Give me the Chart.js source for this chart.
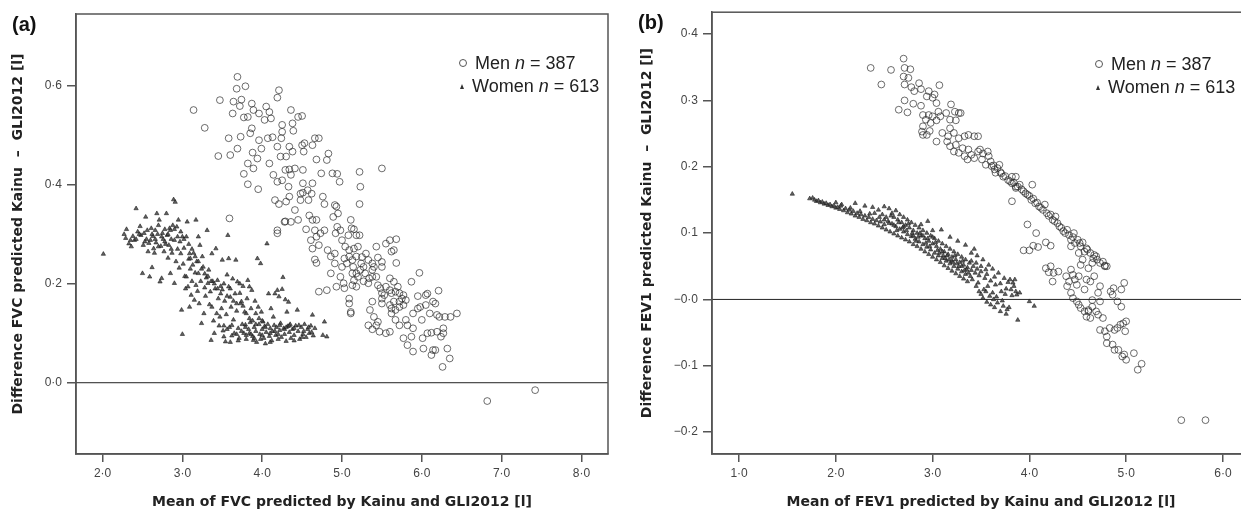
<!DOCTYPE html>
<html>
<head>
<meta charset="utf-8">
<script src="https://cdn.jsdelivr.net/npm/chart.js@4.4.1/dist/chart.umd.min.js"></script>
<style>
  body { margin: 0; width: 1241px; height: 513px; overflow: hidden; background: #fff; position: relative; }
  canvas { position: absolute; top: 0; }
  #chartA { left: 0; }
  #chartB { left: 620px; }
  .panel { position: absolute; font: bold 20px "Liberation Sans", Arial, sans-serif; color: #111; line-height: 23px; }
  .legend { position: absolute; font: 18px "Liberation Sans", Arial, sans-serif; color: #222; line-height: 23px; white-space: nowrap; }
  .legend .row { display: block; height: 23px; }
  .legend .circ { display: inline-block; vertical-align: middle; width: 6px; height: 6px; border: 1px solid #555; border-radius: 50%; margin-right: 8px; position: relative; top: -1px; }
  .legend .tri { display: inline-block; vertical-align: middle; width: 0; height: 0; border-left: 2.5px solid transparent; border-right: 2.5px solid transparent; border-bottom: 5px solid #333; margin: 0 8px 0 1px; position: relative; top: -1px; }
</style>
</head>
<body>
<canvas id="chartA" width="620" height="513"></canvas>
<canvas id="chartB" width="640" height="513"></canvas>
<div class="panel" style="left:12px; top:13px">(a)</div>
<div class="panel" style="left:638px; top:11px">(b)</div>
<div class="legend" style="left:459px; top:52px">
  <div class="row"><span class="circ"></span><span>Men <i>n</i> = 387</span></div>
  <div class="row"><span class="tri"></span><span>Women <i>n</i> = 613</span></div>
</div>
<div class="legend" style="left:1095px; top:53px">
  <div class="row"><span class="circ"></span><span>Men <i>n</i> = 387</span></div>
  <div class="row"><span class="tri"></span><span>Women <i>n</i> = 613</span></div>
</div>
<script>
// ######### data - panel (a) FVC
// ###########################################

const fvcXTicks = [2, 3, 4, 5, 6, 7, 8];
const fvcXLabels = ['2·0', '3·0', '4·0', '5·0', '6·0', '7·0', '8·0'];
const fvcYTicks = [0, 0.2, 0.4, 0.6];
const fvcYLabels = ['0·0', '0·2', '0·4', '0·6'];

const menFvc = [
  [3.69,0.618],[3.68,0.594],[3.79,0.599],[4.21,0.591],[4.19,0.576],[3.14,0.551],[3.28,0.515],[3.47,0.571],[3.64,0.568],[3.74,0.572],
  [3.63,0.544],[3.72,0.559],[3.77,0.536],[3.82,0.537],[3.87,0.564],[3.89,0.551],[3.96,0.544],[4.05,0.558],[4.09,0.547],[4.11,0.534],
  [4.03,0.531],[4.36,0.551],[4.45,0.537],[4.50,0.539],[4.38,0.524],[4.39,0.509],[4.25,0.521],[4.25,0.507],[3.58,0.494],[3.73,0.497],
  [3.45,0.458],[3.60,0.460],[3.69,0.473],[3.85,0.504],[3.87,0.514],[3.96,0.490],[3.99,0.473],[3.88,0.465],[3.94,0.453],[4.07,0.494],
  [4.13,0.496],[4.19,0.477],[4.24,0.494],[4.34,0.477],[4.23,0.457],[4.30,0.457],[4.38,0.467],[4.50,0.480],[4.53,0.484],[4.63,0.480],
  [4.66,0.494],[4.71,0.494],[4.52,0.467],[4.68,0.451],[4.81,0.450],[4.83,0.463],[3.82,0.443],[3.89,0.433],[3.77,0.422],[3.82,0.401],
  [3.95,0.391],[4.09,0.443],[4.14,0.420],[4.19,0.406],[4.25,0.409],[4.16,0.369],[4.21,0.361],[4.29,0.430],[4.34,0.431],[4.36,0.420],
  [4.41,0.433],[4.51,0.430],[4.51,0.403],[4.51,0.384],[4.48,0.382],[4.33,0.396],[4.30,0.366],[4.34,0.376],[4.41,0.349],[4.48,0.369],
  [4.57,0.389],[4.63,0.403],[4.62,0.382],[4.58,0.369],[4.74,0.423],[4.88,0.423],[4.94,0.422],[4.97,0.406],[4.76,0.376],[4.78,0.361],
  [4.91,0.359],[4.93,0.356],[4.95,0.342],[4.89,0.335],[4.29,0.326],[4.28,0.325],[4.45,0.329],[4.36,0.325],[4.55,0.310],[4.19,0.308],
  [4.19,0.302],[3.59,0.332],[4.59,0.338],[4.63,0.329],[4.68,0.329],[4.66,0.308],[4.61,0.288],[4.68,0.295],[4.73,0.302],[4.78,0.308],
  [4.71,0.278],[4.63,0.271],[4.66,0.249],[4.68,0.242],[4.71,0.184],[4.81,0.187],[4.86,0.221],[4.91,0.241],[4.91,0.261],[4.92,0.302],
  [4.94,0.315],[4.98,0.308],[5.00,0.288],[5.04,0.275],[5.08,0.298],[5.09,0.268],[5.09,0.255],[5.06,0.241],[5.00,0.234],[4.98,0.214],
  [5.02,0.201],[4.93,0.194],[5.03,0.191],[5.11,0.329],[5.12,0.312],[5.15,0.310],[5.18,0.298],[5.20,0.275],[5.22,0.298],[5.22,0.361],
  [5.23,0.396],[5.22,0.426],[5.50,0.433],[5.15,0.271],[5.13,0.248],[5.14,0.234],[5.18,0.221],[5.23,0.228],[5.27,0.234],[5.25,0.254],
  [5.30,0.261],[5.33,0.248],[5.29,0.221],[5.15,0.207],[5.18,0.194],[5.13,0.197],[5.09,0.170],[5.09,0.160],[5.11,0.143],[5.11,0.140],
  [5.27,0.205],[5.34,0.211],[5.38,0.228],[5.40,0.234],[5.43,0.214],[5.45,0.197],[5.48,0.191],[5.50,0.181],[5.45,0.253],[5.50,0.244],
  [5.50,0.234],[5.38,0.214],[5.50,0.170],[5.50,0.160],[5.53,0.177],[5.35,0.147],[5.38,0.164],[5.40,0.133],[5.43,0.116],[5.45,0.123],
  [5.33,0.116],[5.38,0.108],[5.47,0.103],[5.55,0.100],[5.60,0.103],[5.55,0.281],[5.60,0.288],[5.68,0.290],[5.62,0.265],[5.65,0.268],
  [5.68,0.242],[5.60,0.211],[5.65,0.204],[5.55,0.194],[5.60,0.187],[5.62,0.181],[5.67,0.184],[5.70,0.194],[5.72,0.181],[5.75,0.170],
  [5.77,0.177],[5.80,0.167],[5.72,0.164],[5.65,0.164],[5.60,0.157],[5.62,0.150],[5.67,0.147],[5.72,0.153],[5.77,0.157],[5.62,0.140],
  [5.67,0.127],[5.72,0.116],[5.80,0.127],[5.82,0.116],[5.89,0.140],[5.87,0.204],[5.97,0.222],[5.95,0.175],[6.05,0.177],[5.95,0.150],
  [5.98,0.153],[6.00,0.127],[5.89,0.110],[5.87,0.093],[5.77,0.090],[5.82,0.076],[5.89,0.063],[6.01,0.090],[6.07,0.100],[6.12,0.101],
  [6.19,0.103],[6.24,0.093],[6.02,0.069],[6.14,0.066],[6.12,0.056],[6.17,0.066],[6.10,0.140],[6.17,0.160],[6.19,0.137],[6.22,0.133],
  [6.29,0.133],[6.36,0.133],[6.44,0.140],[6.21,0.186],[6.05,0.157],[6.07,0.180],[6.14,0.164],[6.27,0.110],[6.32,0.069],[6.35,0.049],
  [6.26,0.032],[6.27,0.100],[6.82,-0.037],[7.42,-0.015],[4.82,0.268],[4.86,0.255],[5.03,0.251],[5.13,0.221],[5.20,0.214],[5.33,0.201],
  [5.43,0.275],[5.38,0.241],[5.18,0.255],[5.24,0.241]
];

const womenFvc = [
  [2.01,0.260],[2.27,0.300],[2.29,0.292],[2.33,0.281],[2.35,0.288],[2.38,0.296],[2.40,0.288],[2.42,0.352],[2.44,0.305],[2.47,0.316],
  [2.48,0.298],[2.50,0.221],[2.51,0.278],[2.52,0.302],[2.54,0.335],[2.55,0.290],[2.56,0.308],[2.58,0.282],[2.59,0.214],[2.60,0.288],
  [2.61,0.312],[2.62,0.233],[2.63,0.296],[2.64,0.271],[2.65,0.262],[2.66,0.308],[2.67,0.283],[2.68,0.342],[2.69,0.300],[2.70,0.318],
  [2.71,0.329],[2.72,0.204],[2.73,0.276],[2.74,0.211],[2.75,0.302],[2.76,0.290],[2.77,0.265],[2.78,0.310],[2.79,0.280],[2.80,0.342],
  [2.81,0.298],[2.82,0.252],[2.83,0.278],[2.84,0.312],[2.85,0.308],[2.85,0.221],[2.86,0.290],[2.87,0.262],[2.88,0.318],[2.89,0.370],
  [2.90,0.288],[2.90,0.201],[2.91,0.365],[2.92,0.245],[2.93,0.315],[2.94,0.270],[2.95,0.329],[2.96,0.232],[2.97,0.285],[2.98,0.261],
  [2.99,0.147],[3.00,0.295],[3.00,0.098],[3.01,0.240],[3.02,0.272],[3.03,0.215],[3.04,0.190],[3.05,0.295],[3.05,0.214],[3.06,0.325],
  [3.07,0.194],[3.08,0.250],[3.09,0.261],[3.09,0.153],[3.10,0.251],[3.10,0.230],[3.11,0.177],[3.12,0.205],[3.13,0.238],[3.14,0.262],
  [3.15,0.167],[3.16,0.222],[3.17,0.329],[3.17,0.197],[3.18,0.245],[3.19,0.185],[3.20,0.221],[3.20,0.295],[3.21,0.160],[3.22,0.278],
  [3.23,0.205],[3.24,0.120],[3.25,0.255],[3.26,0.234],[3.27,0.140],[3.28,0.192],[3.29,0.175],[3.30,0.212],[3.31,0.308],[3.32,0.201],
  [3.33,0.228],[3.34,0.158],[3.35,0.184],[3.36,0.086],[3.37,0.261],[3.37,0.153],[3.38,0.205],[3.39,0.125],[3.40,0.100],[3.41,0.190],
  [3.42,0.271],[3.43,0.140],[3.44,0.207],[3.45,0.170],[3.46,0.115],[3.47,0.133],[3.48,0.195],[3.49,0.150],[3.50,0.248],[3.50,0.188],
  [3.51,0.105],[3.52,0.093],[3.53,0.165],[3.54,0.083],[3.55,0.138],[3.56,0.218],[3.57,0.298],[3.58,0.194],[3.58,0.251],[3.59,0.112],
  [3.60,0.173],[3.61,0.153],[3.62,0.095],[3.63,0.210],[3.64,0.127],[3.65,0.100],[3.66,0.180],[3.67,0.248],[3.68,0.145],[3.69,0.204],
  [3.70,0.110],[3.71,0.090],[3.72,0.181],[3.73,0.160],[3.74,0.164],[3.75,0.118],[3.76,0.195],[3.77,0.100],[3.78,0.143],[3.79,0.117],
  [3.80,0.088],[3.81,0.170],[3.82,0.207],[3.83,0.108],[3.84,0.194],[3.84,0.100],[3.85,0.122],[3.86,0.150],[3.87,0.187],[3.88,0.094],
  [3.89,0.086],[3.90,0.112],[3.91,0.165],[3.92,0.104],[3.93,0.082],[3.94,0.251],[3.95,0.153],[3.96,0.118],[3.97,0.098],[3.98,0.241],
  [3.99,0.143],[4.00,0.108],[4.01,0.123],[4.02,0.090],[4.03,0.114],[4.04,0.079],[4.05,0.102],[4.06,0.281],[4.07,0.118],[4.08,0.180],
  [4.09,0.094],[4.10,0.110],[4.11,0.150],[4.12,0.085],[4.13,0.104],[4.14,0.133],[4.15,0.116],[4.16,0.180],[4.17,0.096],[4.18,0.112],
  [4.19,0.187],[4.20,0.088],[4.21,0.174],[4.22,0.106],[4.23,0.120],[4.24,0.092],[4.25,0.189],[4.26,0.213],[4.27,0.110],[4.28,0.098],
  [4.29,0.168],[4.30,0.084],[4.31,0.143],[4.32,0.114],[4.33,0.163],[4.34,0.102],[4.35,0.118],[4.36,0.090],[4.38,0.108],[4.40,0.096],
  [4.42,0.115],[4.44,0.147],[4.45,0.104],[4.47,0.088],[4.49,0.112],[4.51,0.098],[4.53,0.118],[4.55,0.092],[4.57,0.108],[4.59,0.100],
  [4.61,0.115],[4.63,0.137],[4.64,0.095],[4.66,0.110],[4.76,0.096],[4.78,0.123],[4.81,0.093],[3.56,0.108],[3.62,0.116],[3.68,0.098],
  [3.74,0.104],[3.79,0.112],[3.86,0.098],[3.92,0.118],[3.98,0.088],[4.04,0.112],[4.10,0.100],[4.16,0.104],[4.22,0.116],[4.28,0.108],
  [4.34,0.115],[4.40,0.110],[4.46,0.116],[4.52,0.104],[4.58,0.112],[4.62,0.102],[3.52,0.115],[3.60,0.082],[3.70,0.085],[3.80,0.096],
  [3.90,0.090],[4.00,0.096],[4.10,0.082],[4.20,0.098],[4.30,0.112],[4.40,0.085],[4.50,0.092],[2.30,0.310],[2.36,0.275],[2.42,0.290],
  [2.46,0.300],[2.53,0.285],[2.57,0.265],[2.62,0.300],[2.66,0.290],[2.70,0.275],[2.74,0.295],[2.78,0.285],[2.82,0.300],[2.86,0.270],
  [2.90,0.310],[2.94,0.295],[2.98,0.305],[3.02,0.290],[3.08,0.280],[3.12,0.270],[3.16,0.255],[3.20,0.245],[3.24,0.230],[3.28,0.220],
  [3.32,0.215],[3.36,0.205],[3.40,0.200],[3.44,0.190],[3.48,0.180],[3.52,0.200],[3.56,0.175],[3.60,0.190],[3.64,0.165],[3.68,0.160],
  [3.72,0.200],[3.76,0.155],[3.80,0.140],[3.84,0.130],[3.88,0.125],[3.92,0.140],[3.96,0.130],[4.00,0.125]
];

// ######### data - panel (b) FEV1
// ###########################################

const fevXTicks = [1, 2, 3, 4, 5, 6];
const fevXLabels = ['1·0', '2·0', '3·0', '4·0', '5·0', '6·0'];
const fevYTicks = [-0.2, -0.1, 0, 0.1, 0.2, 0.3, 0.4];
const fevYLabels = ['−0·2', '−0·1', '−0·0', '0·1', '0·2', '0·3', '0·4'];

const menFev = [
  [2.36,0.349],[2.47,0.324],[2.57,0.346],[2.70,0.363],[2.70,0.336],[2.71,0.324],[2.71,0.349],[2.77,0.347],[2.75,0.334],[2.78,0.320],
  [2.81,0.314],[2.86,0.326],[2.88,0.317],[2.71,0.300],[2.65,0.286],[2.74,0.282],[2.80,0.295],[2.88,0.292],[2.94,0.306],[2.96,0.314],
  [3.00,0.304],[3.02,0.309],[3.07,0.323],[3.04,0.296],[2.90,0.278],[2.93,0.271],[2.90,0.261],[2.89,0.253],[2.90,0.248],[2.96,0.278],
  [2.98,0.266],[3.00,0.276],[3.04,0.270],[3.06,0.283],[3.08,0.276],[2.94,0.248],[2.97,0.254],[3.04,0.238],[3.10,0.251],[3.14,0.281],
  [3.19,0.294],[3.18,0.271],[3.23,0.283],[3.27,0.281],[3.29,0.281],[3.24,0.270],[3.18,0.258],[3.22,0.251],[3.16,0.246],[3.15,0.238],
  [3.18,0.231],[3.24,0.233],[3.27,0.243],[3.33,0.246],[3.37,0.248],[3.43,0.246],[3.47,0.246],[3.22,0.223],[3.27,0.221],[3.31,0.228],
  [3.33,0.216],[3.37,0.226],[3.40,0.218],[3.36,0.211],[3.43,0.213],[3.47,0.223],[3.49,0.226],[3.51,0.211],[3.57,0.223],[3.58,0.216],
  [3.55,0.203],[3.61,0.201],[3.63,0.202],[3.67,0.198],[3.69,0.203],[3.71,0.190],[3.65,0.191],[3.73,0.185],[3.78,0.180],[3.82,0.185],
  [3.86,0.185],[3.82,0.175],[3.90,0.173],[3.86,0.168],[3.94,0.163],[3.98,0.158],[4.03,0.173],[4.02,0.150],[4.06,0.145],[4.10,0.140],
  [4.14,0.135],[4.16,0.143],[4.18,0.130],[4.22,0.128],[4.24,0.120],[4.27,0.125],[4.29,0.115],[4.31,0.110],[4.35,0.103],[4.39,0.105],
  [4.41,0.097],[4.43,0.090],[4.46,0.100],[4.47,0.085],[4.50,0.090],[4.53,0.080],[4.55,0.086],[4.57,0.072],[4.59,0.077],[4.63,0.070],
  [4.67,0.067],[4.69,0.065],[4.73,0.055],[4.78,0.050],[4.80,0.050],[4.43,0.080],[4.51,0.070],[4.55,0.060],[3.82,0.148],[3.86,0.170],
  [3.98,0.113],[4.07,0.100],[3.94,0.074],[4.00,0.074],[4.04,0.081],[4.09,0.079],[4.17,0.086],[4.22,0.081],[4.17,0.047],[4.22,0.050],
  [4.20,0.041],[4.24,0.027],[4.25,0.040],[4.30,0.042],[4.38,0.035],[4.41,0.027],[4.39,0.020],[4.43,0.045],[4.45,0.037],[4.47,0.030],
  [4.51,0.035],[4.49,0.022],[4.43,0.010],[4.45,0.002],[4.49,-0.003],[4.51,-0.008],[4.53,-0.013],[4.57,-0.018],[4.59,-0.026],[4.63,-0.028],
  [4.61,-0.016],[4.65,-0.001],[4.69,-0.018],[4.71,-0.023],[4.76,-0.028],[4.73,-0.046],[4.78,-0.048],[4.80,-0.056],[4.83,-0.043],[4.84,0.012],
  [4.86,0.007],[4.87,0.017],[4.91,-0.003],[4.95,0.015],[4.98,0.025],[4.95,-0.011],[4.88,-0.046],[4.91,-0.043],[4.94,-0.038],[4.97,-0.036],
  [5.00,-0.033],[4.99,-0.048],[4.80,-0.066],[4.86,-0.068],[4.88,-0.076],[4.92,-0.076],[4.96,-0.086],[5.00,-0.091],[4.98,-0.083],[5.08,-0.081],
  [5.12,-0.106],[5.16,-0.097],[4.71,0.010],[4.73,-0.003],[4.73,0.020],[4.67,0.035],[4.63,0.027],[4.59,0.030],[4.57,0.015],[4.65,-0.011],
  [4.61,-0.018],[5.57,-0.182],[5.82,-0.182],[4.53,0.052],[4.61,0.047],[4.65,0.055],[4.76,0.057],[4.78,0.051],[3.52,0.220],[3.60,0.208],
  [3.64,0.196],[3.70,0.192],[3.75,0.186],[3.80,0.178],[3.84,0.176],[3.88,0.170],[3.92,0.166],[3.96,0.160],[4.00,0.156],[4.04,0.152],
  [4.08,0.146],[4.12,0.138],[4.20,0.126],[4.26,0.118],[4.33,0.108],[4.37,0.100],[4.45,0.094],[4.52,0.085],[4.60,0.075],[4.66,0.062],
  [4.70,0.060]
];

const womenFev = [
  [1.55,0.159],[1.73,0.152],[1.76,0.153],[1.78,0.150],[1.80,0.148],[1.82,0.149],[1.84,0.146],[1.86,0.147],[1.88,0.144],[1.90,0.145],
  [1.92,0.142],[1.94,0.143],[1.96,0.140],[1.98,0.141],[2.00,0.138],[2.00,0.146],[2.02,0.139],[2.04,0.136],[2.06,0.143],[2.08,0.134],
  [2.10,0.137],[2.12,0.131],[2.14,0.135],[2.16,0.129],[2.18,0.133],[2.20,0.126],[2.20,0.145],[2.22,0.130],[2.24,0.124],[2.26,0.128],
  [2.28,0.121],[2.30,0.126],[2.30,0.141],[2.32,0.119],[2.34,0.124],[2.36,0.116],[2.38,0.121],[2.38,0.139],[2.40,0.114],[2.40,0.130],
  [2.42,0.119],[2.44,0.111],[2.44,0.135],[2.46,0.117],[2.48,0.108],[2.48,0.128],[2.50,0.113],[2.50,0.140],[2.52,0.105],[2.52,0.124],
  [2.54,0.118],[2.55,0.137],[2.56,0.102],[2.58,0.114],[2.58,0.130],[2.60,0.099],[2.60,0.124],[2.62,0.110],[2.62,0.134],[2.64,0.096],
  [2.64,0.120],[2.66,0.106],[2.66,0.128],[2.68,0.093],[2.68,0.116],[2.70,0.102],[2.70,0.124],[2.72,0.090],[2.72,0.112],[2.74,0.098],
  [2.74,0.120],[2.76,0.087],[2.76,0.108],[2.78,0.095],[2.78,0.116],[2.80,0.083],[2.80,0.104],[2.82,0.091],[2.82,0.112],[2.84,0.080],
  [2.84,0.100],[2.86,0.087],[2.86,0.108],[2.88,0.076],[2.88,0.096],[2.88,0.113],[2.90,0.083],[2.90,0.104],[2.92,0.072],[2.92,0.092],
  [2.94,0.079],[2.94,0.100],[2.95,0.118],[2.96,0.068],[2.96,0.088],[2.98,0.075],[2.98,0.096],[3.00,0.064],[3.00,0.084],[3.00,0.104],
  [3.02,0.070],[3.02,0.092],[3.04,0.060],[3.04,0.080],[3.06,0.066],[3.06,0.088],[3.08,0.056],[3.08,0.076],[3.09,0.105],[3.10,0.062],
  [3.10,0.084],[3.12,0.051],[3.12,0.072],[3.14,0.058],[3.14,0.080],[3.16,0.047],[3.16,0.068],[3.18,0.054],[3.18,0.076],[3.18,0.094],
  [3.20,0.043],[3.20,0.064],[3.22,0.050],[3.22,0.072],[3.24,0.039],[3.24,0.060],[3.26,0.046],[3.26,0.068],[3.26,0.088],[3.28,0.035],
  [3.28,0.056],[3.30,0.042],[3.30,0.064],[3.32,0.031],[3.32,0.052],[3.34,0.038],[3.34,0.060],[3.34,0.082],[3.36,0.027],[3.36,0.048],
  [3.38,0.055],[3.40,0.044],[3.40,0.070],[3.42,0.050],[3.43,0.076],[3.44,0.040],[3.46,0.046],[3.46,0.066],[3.48,0.012],[3.48,0.036],
  [3.50,0.008],[3.50,0.042],[3.52,0.002],[3.52,0.060],[3.54,0.032],[3.55,0.012],[3.56,-0.004],[3.56,0.038],[3.58,0.052],[3.60,-0.008],
  [3.60,0.028],[3.62,0.010],[3.62,0.046],[3.64,-0.012],[3.64,0.034],[3.66,0.004],[3.68,0.040],[3.70,-0.018],[3.70,0.024],[3.72,-0.002],
  [3.74,0.032],[3.76,-0.022],[3.76,0.016],[3.78,0.026],[3.79,-0.012],[3.80,0.030],[3.82,0.006],[3.84,0.020],[3.86,0.012],[3.87,0.007],
  [3.88,-0.031],[3.90,0.010],[4.00,-0.003],[4.05,-0.010],[2.05,0.141],[2.15,0.138],[2.25,0.133],[2.35,0.129],[2.45,0.124],[2.50,0.120],
  [2.55,0.115],[2.60,0.112],[2.65,0.116],[2.70,0.110],[2.75,0.114],[2.80,0.096],[2.85,0.094],[2.90,0.096],[2.95,0.092],[3.00,0.094],
  [3.05,0.074],[3.10,0.072],[3.15,0.066],[3.20,0.058],[3.25,0.054],[3.30,0.050],[3.35,0.045],[3.40,0.058],[3.45,0.055],[3.50,0.050],
  [3.55,0.045],[3.65,0.022],[3.75,0.008],[2.57,0.126],[2.63,0.104],[2.69,0.108],[2.73,0.104],[2.79,0.100],[2.83,0.088],[2.87,0.100],
  [2.93,0.085],[2.97,0.080],[3.03,0.086],[3.07,0.070],[3.11,0.066],[3.13,0.062],[3.17,0.060],[3.21,0.056],[3.23,0.066],[3.27,0.050],
  [3.31,0.058],[3.33,0.044],[3.37,0.040],[3.39,0.035],[3.41,0.030],[3.45,0.020],[3.47,0.025],[3.53,0.015],[3.57,0.020],[3.59,0.005],
  [3.63,0.000],[3.67,-0.005],[3.71,0.012],[3.73,-0.010],[3.77,-0.015],[3.81,0.015],[3.83,0.025],[3.85,0.030]
];

const xTitleA = 'Mean of FVC predicted by Kainu and GLI2012 [l]';
const yTitleA = 'Difference FVC predicted Kainu  –  GLI2012 [l]';
const xTitleB = 'Mean of FEV1 predicted by Kainu and GLI2012 [l]';
const yTitleB = 'Difference FEV1 predicted Kainu  –  GLI2012 [l]';


// ######### plugin - caja y linea cero
// ###########################################

const boxPlugin = {
    id: 'boxPlugin',
    beforeDatasetsDraw(chart) {
        const ctx = chart.ctx;
        const a = chart.chartArea;
        const y0 = chart.scales.y.getPixelForValue(0);
        ctx.save();
        ctx.strokeStyle = '#222';
        ctx.lineWidth = 1;
        ctx.beginPath();
        ctx.moveTo(a.left, y0);
        ctx.lineTo(a.right, y0);
        ctx.stroke();
        ctx.restore();
    },
    afterDraw(chart) {
        const ctx = chart.ctx;
        const a = chart.chartArea;
        ctx.save();
        ctx.strokeStyle = '#555';
        ctx.lineWidth = 1.5;
        ctx.strokeRect(a.left, a.top, a.right - a.left, a.bottom - a.top);
        ctx.restore();
    }
};

const toPoints = (arr) => arr.map(p => ({ x: p[0], y: p[1] }));

function makeDatasets(men, women) {
    return [{
        label: 'Men',
        data: toPoints(men),
        pointStyle: 'circle',
        pointRadius: 3.4,
        borderWidth: 1,
        borderColor: 'rgba(40,40,40,0.68)',
        backgroundColor: 'rgba(0,0,0,0)'
    },
    {
        label: 'Women',
        data: toPoints(women),
        pointStyle: 'triangle',
        pointRadius: 2.5,
        borderWidth: 0.6,
        borderColor: 'rgba(20,20,20,0.9)',
        backgroundColor: 'rgba(70,70,70,0.85)'
    }];
}

function makeOptions(cfg) {
    const tickFont = { family: 'Liberation Sans', size: 12 };
    const titleFont = { family: 'DejaVu Sans', size: 14, weight: 'bold' };
    return {
        responsive: false,
        animation: false,
        devicePixelRatio: 1,
        layout: { padding: { left: 0, top: cfg.top, right: cfg.right, bottom: 0 } },
        plugins: { legend: { display: false }, tooltip: { enabled: false } },
        scales: {
            x: {
                type: 'linear',
                min: cfg.xMin,
                max: cfg.xMax,
                afterFit: (s) => { s.height = 513 - 454; },
                afterBuildTicks: (s) => { s.ticks = cfg.xTicks.map(v => ({ value: v })); },
                ticks: {
                    font: tickFont,
                    color: '#444',
                    padding: 4,
                    maxRotation: 0,
                    autoSkip: false,
                    callback: (v) => cfg.xLabels[cfg.xTicks.indexOf(v)]
                },
                grid: { drawOnChartArea: false, drawTicks: true, tickLength: 8, color: '#555', lineWidth: 1.5 },
                border: { display: true, color: '#555', width: 1.5 },
                title: { display: true, text: cfg.xTitle, font: titleFont, color: '#222', padding: { top: 0, bottom: 2 } }
            },
            y: {
                type: 'linear',
                min: cfg.yMin,
                max: cfg.yMax,
                afterFit: (s) => { s.width = cfg.yWidth; },
                afterBuildTicks: (s) => { s.ticks = cfg.yTicks.map(v => ({ value: v })); },
                ticks: {
                    font: tickFont,
                    color: '#444',
                    padding: 5,
                    autoSkip: false,
                    callback: (v) => cfg.yLabels[cfg.yTicks.indexOf(v)]
                },
                grid: { drawOnChartArea: false, drawTicks: true, tickLength: 9, color: '#555', lineWidth: 1.5 },
                border: { display: true, color: '#555', width: 1.5 },
                title: { display: true, text: cfg.yTitle, font: titleFont, color: '#222', padding: { top: cfg.yTitlePad, bottom: 0 } }
            }
        }
    };
}


// ######### panel (a)
// ###########################################

const chartA = document.getElementById('chartA');

if(chartA) {
    new Chart(chartA.getContext('2d'), {
        type: 'scatter',
        data: { datasets: makeDatasets(menFvc, womenFvc) },
        options: makeOptions({
            top: 14, right: 12, yWidth: 76, yTitlePad: 10,
            xMin: 1.667, xMax: 8.333, yMin: -0.144, yMax: 0.745,
            xTicks: fvcXTicks, xLabels: fvcXLabels, yTicks: fvcYTicks, yLabels: fvcYLabels,
            xTitle: xTitleA, yTitle: yTitleA
        }),
        plugins: [boxPlugin]
    });
}


// ######### panel (b)
// ###########################################

const chartB = document.getElementById('chartB');

if(chartB) {
    new Chart(chartB.getContext('2d'), {
        type: 'scatter',
        data: { datasets: makeDatasets(menFev, womenFev) },
        options: makeOptions({
            top: 12, right: 10, yWidth: 92, yTitlePad: 19,
            xMin: 0.72, xMax: 6.28, yMin: -0.233, yMax: 0.433,
            xTicks: fevXTicks, xLabels: fevXLabels, yTicks: fevYTicks, yLabels: fevYLabels,
            xTitle: xTitleB, yTitle: yTitleB
        }),
        plugins: [boxPlugin]
    });
}
</script>
</body>
</html>
